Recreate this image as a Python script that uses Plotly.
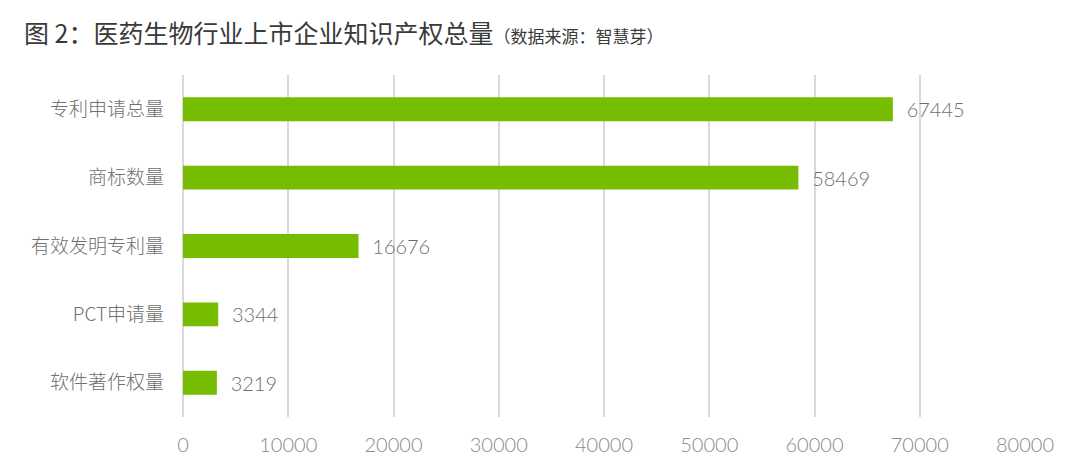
import plotly.graph_objects as go

categories = ["专利申请总量", "商标数量", "有效发明专利量", "PCT申请量", "软件著作权量"]
values = [67445, 58469, 16676, 3344, 3219]
tick_vals = [0, 10000, 20000, 30000, 40000, 50000, 60000, 70000, 80000]
tick_text = [str(v) for v in tick_vals]

# the page body has an 8px default margin, so figure coords = screen coords - 8
W, H = 1080, 464
L, R, T, B = 175, 63, 67, 55

fig = go.Figure(go.Bar(
    x=values, y=categories, orientation="h",
    marker=dict(color="#76BC00", line=dict(width=0)),
    width=0.35,
    text=["  " + str(v) for v in values], textposition="outside",
    textfont=dict(size=20, color="#6e6e6e", family="Lato", weight=300),
    cliponaxis=False,
))

fig.update_layout(
    width=W, height=H,
    margin=dict(l=L, r=R, t=T, b=B, autoexpand=False),
    paper_bgcolor="white", plot_bgcolor="white",
    showlegend=False,
    font=dict(family="Noto Sans CJK SC, Noto Sans", color="#666666"),
    annotations=[dict(
        xref="paper", yref="paper",
        x=(14 - L) / (W - L - R),
        y=1 + (T - 24) / (H - T - B),
        xanchor="left", yanchor="middle",
        text="<span style='font-size:25px'>图 2：医药生物行业上市企业知识产权总量</span><span style='font-size:17px'>（数据来源：智慧芽）</span>",
        showarrow=False, font=dict(color="#3a3a3a", family="Noto Sans CJK SC"),
    )],
)

fig.update_xaxes(
    range=[0, 80000], tickvals=tick_vals, ticktext=tick_text,
    showgrid=True, gridcolor="#d9d9d9", gridwidth=1.5,
    zeroline=True, zerolinecolor="#d9d9d9", zerolinewidth=1.5,
    showline=False, ticks="", automargin=False,
    tickfont=dict(size=20, color="#8a8a8a", family="Lato", weight=300),
    ticklabelstandoff=14,
)
fig.update_yaxes(
    categoryorder="array", categoryarray=categories[::-1],
    autorange=False, range=[-0.5, 4.5],
    showgrid=False, showline=False, ticks="", automargin=False,
    tickfont=dict(size=19, color="#707070", family="Noto Sans CJK SC", weight=300),
    ticklabelstandoff=18,
)

fig.write_html("out.html")
